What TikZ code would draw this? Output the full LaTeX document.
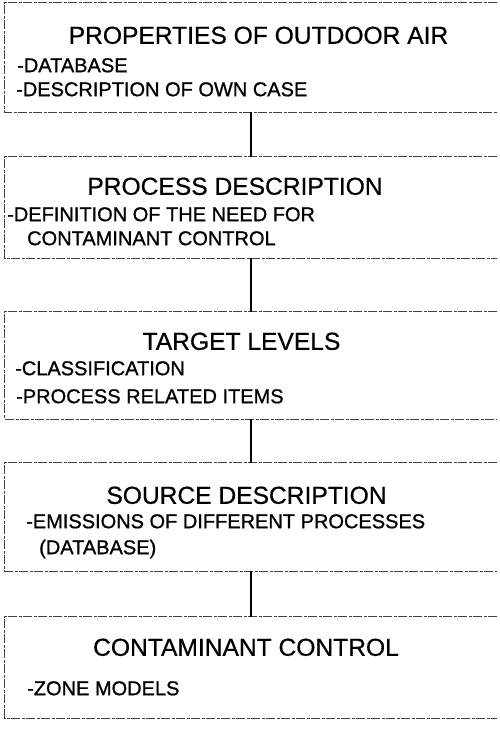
\documentclass[tikz,border=0pt]{standalone}
\usepackage{fontspec}
\setmainfont{Liberation Sans}
\newfontfamily\titlefont[FakeBold=0.6]{Liberation Sans}
\newfontfamily\itemfont[FakeBold=0.9]{Liberation Sans}
\begin{document}
\begin{tikzpicture}[x=1pt,y=-1pt,
  boxarea/.style={rectangle, inner sep=0pt, minimum width=492pt},
  boxline/.style={draw=black!75, line width=1pt, dash pattern=on 9pt off 1.5pt on 3pt off 1.5pt},
  conn/.style={draw=black, line width=2.8pt},
  title/.style={anchor=base, inner sep=0pt, font=\titlefont\fontsize{24.6}{28}\selectfont, text=black},
  item/.style={anchor=base west, inner sep=0pt, font=\itemfont\fontsize{20}{24}\selectfont, text=black}
]
\useasboundingbox (0,0) rectangle (500,730);
\fill[white] (0,0) rectangle (500,730);

% boxes
\node[boxarea, minimum height=109pt] (b1) at (251,57.5) {};
\node[boxarea, minimum height=101pt] (b2) at (251,207.5) {};
\node[boxarea, minimum height=107pt] (b3) at (251,365.5) {};
\node[boxarea, minimum height=108pt] (b4) at (251,517) {};
\node[boxarea, minimum height=101pt] (b5) at (251,667.5) {};

\foreach \b in {b1,b2,b3,b4,b5}{
  \draw[boxline] (\b.north east) -- (\b.north west) -- (\b.south west) -- (\b.south east);
}

% connectors
\draw[conn] (b1.south) -- (b2.north);
\draw[conn] (b2.south) -- (b3.north);
\draw[conn] (b3.south) -- (b4.north);
\draw[conn] (b4.south) -- (b5.north);

% texts
\node[title] (t1) at (258.5,43.8) {PROPERTIES OF OUTDOOR AIR};
\node[item] (i1a) at (17,72.2) {-DATABASE};
\node[item] (i1b) at (16,96.2) {-DESCRIPTION OF OWN CASE};

\node[title] (t2) at (235,194.8) {PROCESS DESCRIPTION};
\node[item] (i2a) at (7,221.2) {-DEFINITION OF THE NEED FOR};
\node[item] (i2b) at (27,245.2) {CONTAMINANT CONTROL};

\node[title] (t3) at (241.5,349.8) {TARGET LEVELS};
\node[item] (i3a) at (15,375.2) {-CLASSIFICATION};
\node[item] (i3b) at (16,403.2) {-PROCESS RELATED ITEMS};

\node[title] (t4) at (246.5,503.8) {SOURCE DESCRIPTION};
\node[item] (i4a) at (26,528.2) {-EMISSIONS OF DIFFERENT PROCESSES};
\node[item] (i4b) at (39,554.2) {(DATABASE)};

\node[title] (t5) at (246,655.8) {CONTAMINANT CONTROL};
\node[item] (i5a) at (27,695.2) {-ZONE MODELS};
\end{tikzpicture}
\end{document}
